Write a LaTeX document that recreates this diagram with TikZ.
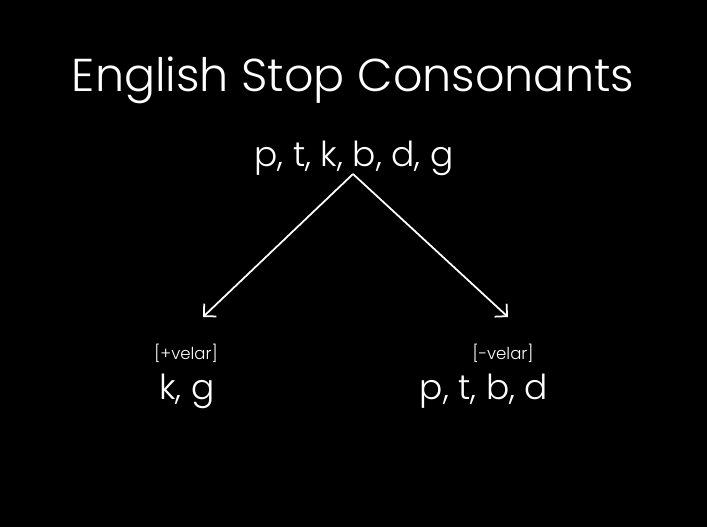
\documentclass[tikz,border=0pt]{standalone}
\usepackage{fontspec}
\setmainfont{Poppins Light}
\usetikzlibrary{arrows.meta,positioning}
\usepackage{xcolor}
\definecolor{SlideBg}{HTML}{000000}
\definecolor{SlideFg}{HTML}{FFFFFF}

\begin{document}
\begin{tikzpicture}[font=\fontsize{9.8pt}{12pt}\selectfont,text=SlideFg]
    \fill[SlideBg] (0,0) rectangle (7.07,5.27);
    \useasboundingbox (0,0) rectangle (7.07,5.27);
    \node (title) at (3.53,4.47) {\fontsize{13.1pt}{16pt}\selectfont English Stop Consonants};
    \node (stops) at (3.54,3.69) {p, t, k, b, d, g};
    \coordinate (top) at (3.53,3.53);
    \node (plustag) at (1.86,1.74) {\fontsize{4.7pt}{6pt}\selectfont [+velar]};
    \node (velar) at (1.87,1.36) {k, g};
    \node (minustag) at (5.03,1.74) {\fontsize{4.7pt}{6pt}\selectfont [-velar]};
    \node (nonvelar) at (4.84,1.36) {p, t, b, d};
    \draw[SlideFg,line width=0.5pt,-{Straight Barb[length=2.5pt,width=5pt]}] (top) -- (2.03,2.10);
    \draw[SlideFg,line width=0.5pt,-{Straight Barb[length=2.5pt,width=5pt]}] (top) -- (5.08,2.10);
  \end{tikzpicture}
\end{document}
